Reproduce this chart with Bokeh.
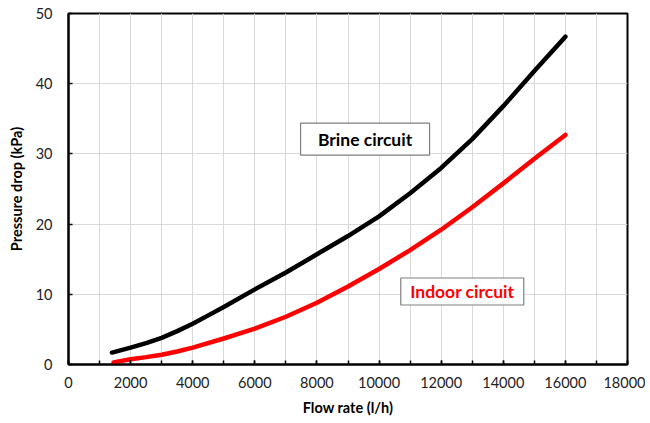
from bokeh.plotting import figure
from bokeh.models import FixedTicker, Range1d
from bokeh.embed import file_html
from bokeh.resources import INLINE
from bokeh.core.properties import value

# Data
brine_flow = [1400, 2000, 2500, 3000, 3500, 4000, 4500, 5000, 6000, 7000, 8000, 9000, 10000, 11000, 12000, 13000, 14000, 15000, 16000]
brine_dp = [1.7, 2.4, 3.05, 3.8, 4.75, 5.8, 7.0, 8.2, 10.7, 13.1, 15.7, 18.3, 21.1, 24.4, 28.0, 32.1, 36.8, 41.8, 46.7]

indoor_flow = [1450, 2000, 2500, 3000, 3500, 4000, 5000, 6000, 7000, 8000, 9000, 10000, 11000, 12000, 13000, 14000, 15000, 16000]
indoor_dp = [0.3, 0.75, 1.05, 1.4, 1.85, 2.4, 3.7, 5.1, 6.8, 8.8, 11.1, 13.6, 16.3, 19.2, 22.4, 25.8, 29.3, 32.7]

x_ticks = [0, 2000, 4000, 6000, 8000, 10000, 12000, 14000, 16000, 18000]
x_grid = list(range(0, 19000, 1000))
y_ticks = [0, 10, 20, 30, 40, 50]

FONT = "Lato"

p = figure(width=645, height=418, output_backend="svg", toolbar_location=None,
           x_range=Range1d(0, 18000), y_range=Range1d(0, 50),
           min_border_left=68, min_border_top=13, min_border_right=18, min_border_bottom=53)

p.outline_line_color = "black"
p.outline_line_width = 2
p.background_fill_color = "white"

for ax in (p.xaxis[0], p.yaxis[0]):
    ax.axis_line_color = "black"
    ax.axis_line_width = 2
    ax.major_tick_line_color = "black"
    ax.major_tick_line_width = 1.5
    ax.major_tick_in = 4
    ax.major_tick_out = 0
    ax.major_label_text_font = FONT
    ax.major_label_text_font_size = "14.5px"
    ax.major_label_text_color = "#222222"
    ax.axis_label_text_font = FONT
    ax.axis_label_text_font_size = "14.5px"
    ax.axis_label_text_font_style = "bold"
    ax.axis_label_text_color = "black"

p.xaxis.ticker = FixedTicker(ticks=x_ticks, minor_ticks=x_grid)
p.xaxis.minor_tick_in = 4
p.xaxis.minor_tick_out = 0
p.xaxis.minor_tick_line_color = "black"
p.xaxis.minor_tick_line_width = 1.5
p.xaxis.major_label_standoff = 12
p.xaxis.axis_label = "Flow rate (l/h)"
p.xaxis.axis_label_standoff = 8

p.yaxis.ticker = FixedTicker(ticks=y_ticks)
p.yaxis.minor_tick_line_color = None
p.yaxis.major_label_standoff = 16
p.yaxis.axis_label = "Pressure drop (kPa)"
p.yaxis.axis_label_standoff = 8

p.xgrid.ticker = FixedTicker(ticks=x_grid)
p.xgrid.grid_line_color = "#d9d9d9"
p.xgrid.grid_line_width = 1
p.ygrid.ticker = FixedTicker(ticks=y_ticks)
p.ygrid.grid_line_color = "#d9d9d9"
p.ygrid.grid_line_width = 1

p.line(brine_flow, brine_dp, line_color="black", line_width=4.5, line_cap="round", line_join="round")
p.line(indoor_flow, indoor_dp, line_color="#ff0000", line_width=4.5, line_cap="round", line_join="round")

# annotation boxes
p.rect(x=[9550], y=[32.1], width=129, height=32, width_units="screen", height_units="screen",
       fill_color="white", line_color="#7f7f7f", line_width=1.2)
p.text(x=[9550], y=[32.1], text=["Brine circuit"], text_align="center", text_baseline="middle",
       text_font=value(FONT), text_font_size="17.5px", text_font_style="bold", text_color="black")

p.rect(x=[12680], y=[10.4], width=123, height=27, width_units="screen", height_units="screen",
       fill_color="white", line_color="#7f7f7f", line_width=1.2)
p.text(x=[12680], y=[10.4], text=["Indoor circuit"], text_align="center", text_baseline="middle",
       text_font=value(FONT), text_font_size="17.5px", text_font_style="bold", text_color="#ff0000")

open("out.html", "w").write(file_html(p, INLINE))
